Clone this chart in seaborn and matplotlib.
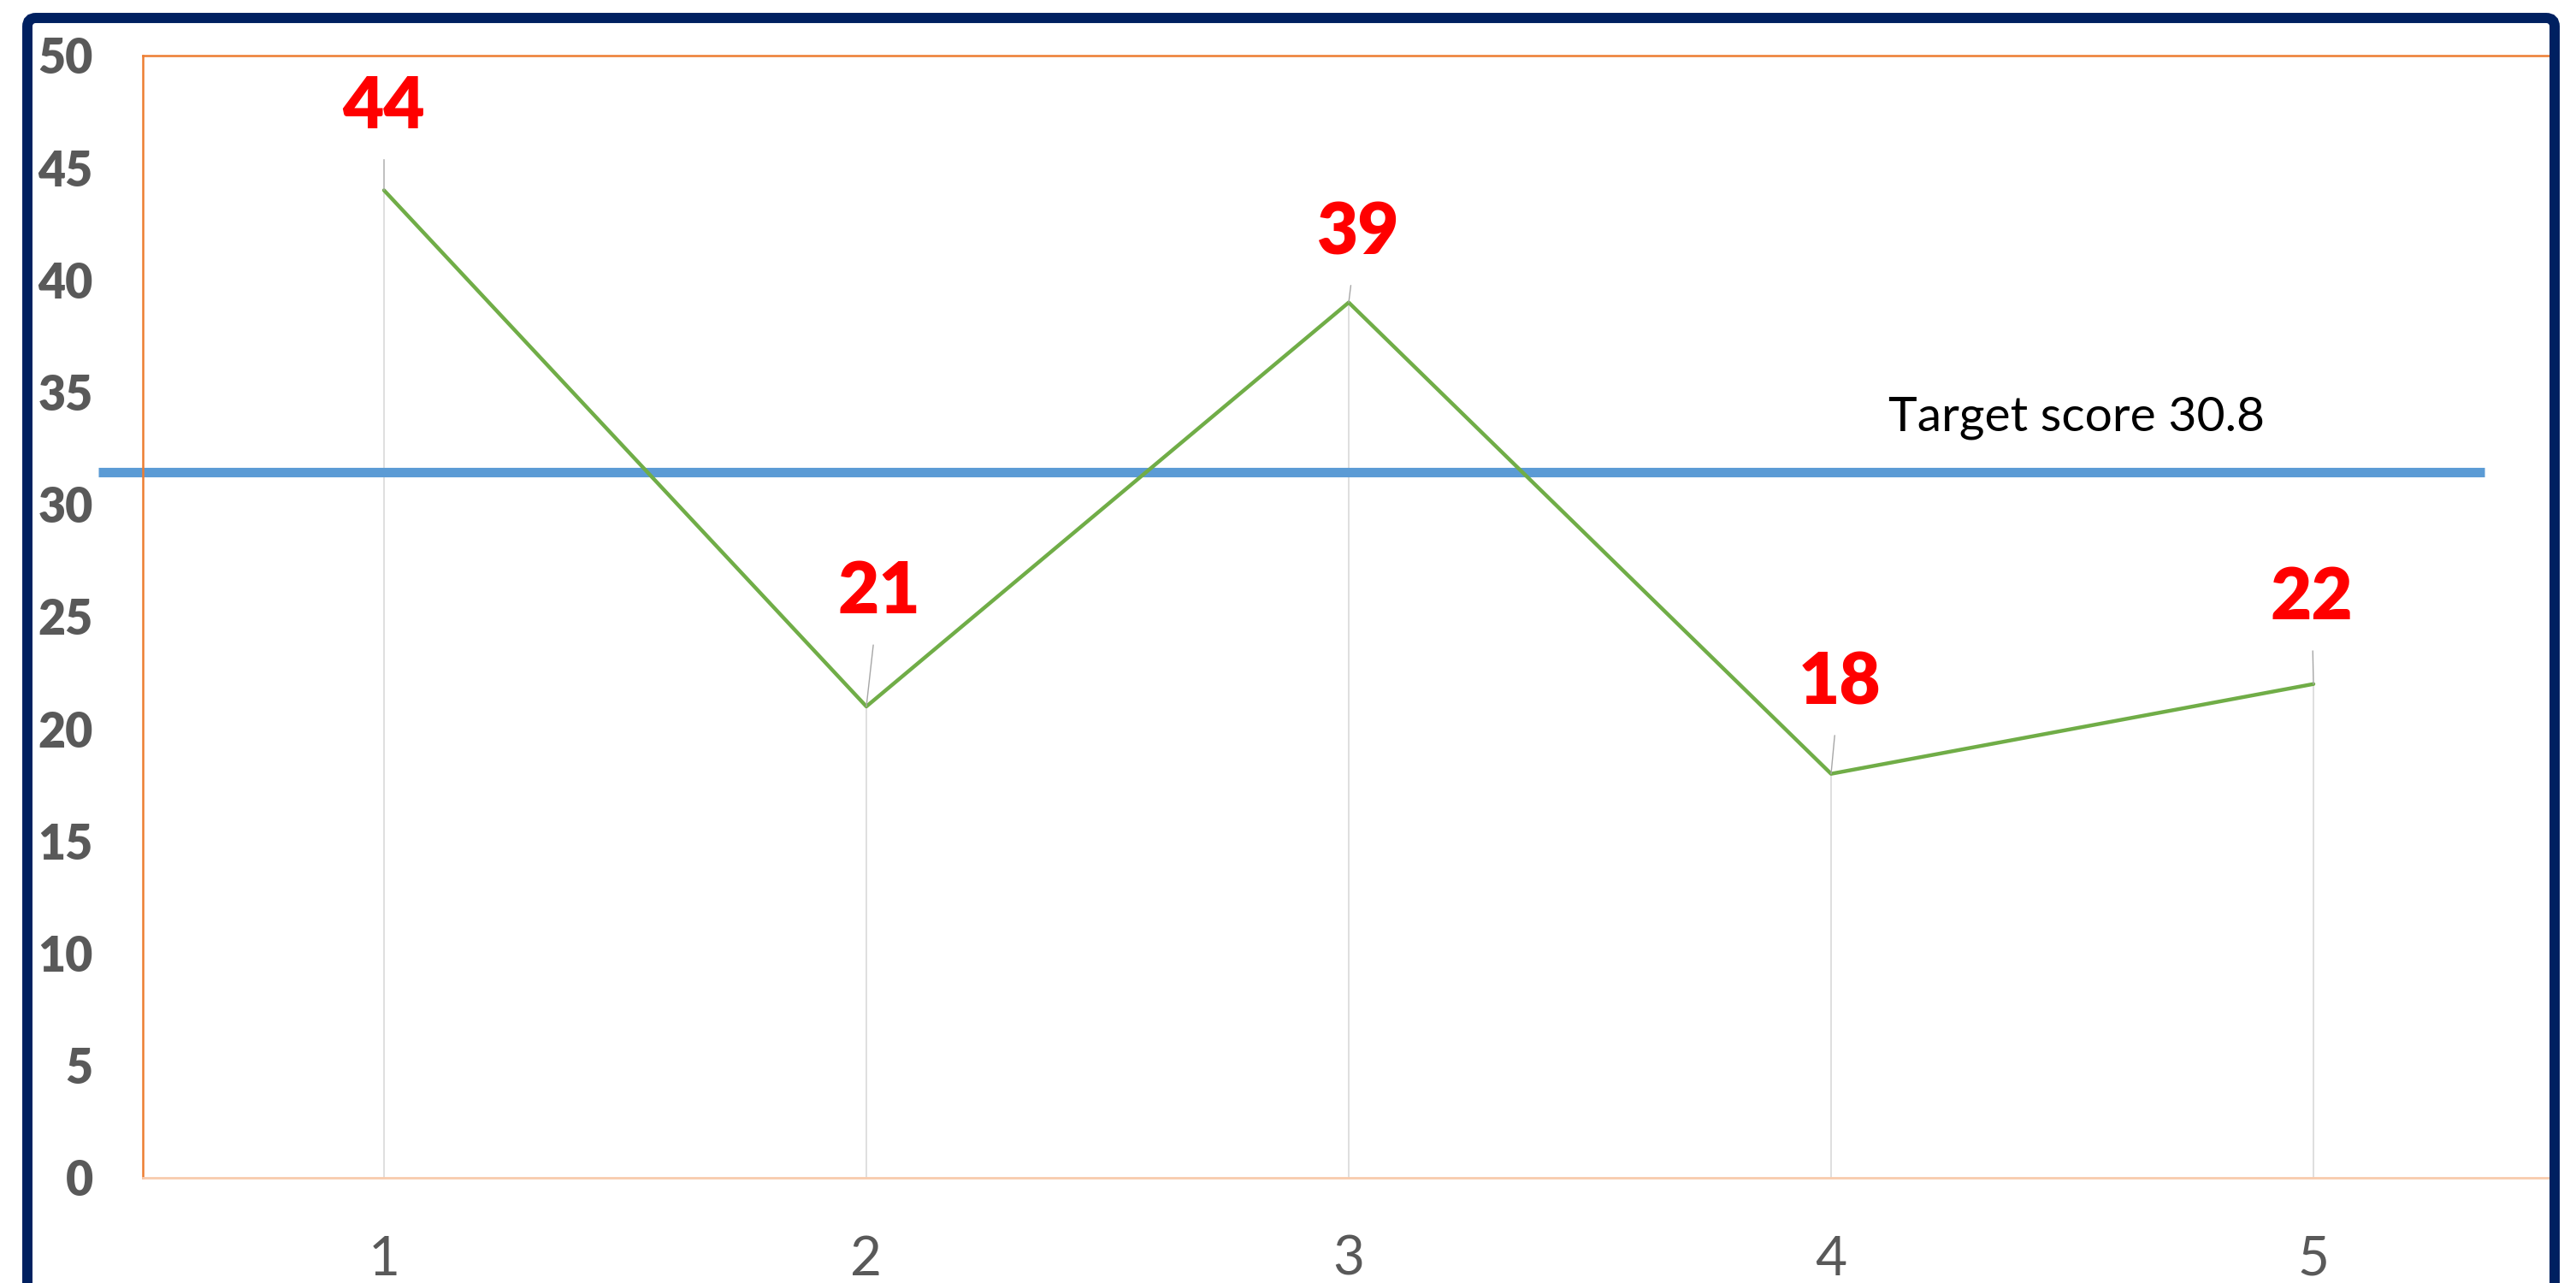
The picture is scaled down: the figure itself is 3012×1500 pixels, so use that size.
import matplotlib
matplotlib.use('Agg')
import matplotlib.pyplot as plt
import seaborn as sns
import pandas as pd
from matplotlib.patches import FancyBboxPatch
from matplotlib.transforms import IdentityTransform

# data
rounds = [1, 2, 3, 4, 5]
scores = [44, 21, 39, 18, 22]
target_label = 'Target score 30.8'
target_level = 31.45   # where the blue line sits in the picture
y_ticks = [0, 5, 10, 15, 20, 25, 30, 35, 40, 45, 50]

df = pd.DataFrame({'round': rounds, 'score': scores})

sns.set_style('white')
plt.rcParams['font.family'] = ['Lato', 'DejaVu Sans']

fig = plt.figure(figsize=(30.12, 15), dpi=100)
ax = fig.add_axes([167 / 3012, 123 / 1500, (2987 - 167) / 3012, (1435 - 123) / 1500])

# drop lines from each point to the axis
ax.vlines(df['round'], 0, df['score'], color='#D9D9D9', lw=1.2, zorder=1)

# score line
sns.lineplot(data=df, x='round', y='score', color='#70AD47', lw=3.2, ax=ax, zorder=3)

# target line, runs a little past the left edge
ax.plot([0.407, 5.355], [target_level, target_level], color='#5B9BD5', lw=8,
        solid_capstyle='butt', clip_on=False, zorder=2)
ax.text(4.119, 33.3, target_label, fontsize=41, color='black', va='baseline', ha='left')

# value labels with short leader lines
offsets = [(0, 97), (15, 133), (10, 81), (10, 106), (-2, 100)]
for (x, v), (dx, dy) in zip(zip(rounds, scores), offsets):
    ax.annotate(str(v), xy=(x, v), xytext=(dx, dy), textcoords='offset pixels',
                ha='center', va='center', fontsize=60, fontweight='heavy', color='#FF0000',
                arrowprops=dict(arrowstyle='-', color='#A6A6A6', lw=1, shrinkA=14, shrinkB=0))

ax.set_xlim(0.5, 5.5)
ax.set_ylim(0, 50)
ax.set_xticks(rounds)
ax.set_xticklabels([str(r) for r in rounds], fontsize=46, color='#595959')
ax.set_yticks(y_ticks)
ax.set_yticklabels([str(t) for t in y_ticks], fontsize=40, fontweight='heavy', color='#595959')
ax.tick_params(axis='both', length=0)
ax.tick_params(axis='y', pad=42)
ax.tick_params(axis='x', pad=48)
ax.set_xlabel('')
ax.set_ylabel('')

for side in ['top', 'left', 'right']:
    ax.spines[side].set_color('#ED7D31')
    ax.spines[side].set_linewidth(1.8)
ax.spines['bottom'].set_color('#F8CBAD')
ax.spines['bottom'].set_linewidth(2)

# navy frame around the chart (bottom edge runs off the image)
frame = FancyBboxPatch((32, -60), 2987 - 32, 1479 + 60, boxstyle='round,pad=0,rounding_size=10',
                       transform=IdentityTransform(), facecolor='none', edgecolor='#002060',
                       lw=8.6, zorder=10)
fig.add_artist(frame)

fig.savefig('out.png', dpi=100, facecolor='white')
